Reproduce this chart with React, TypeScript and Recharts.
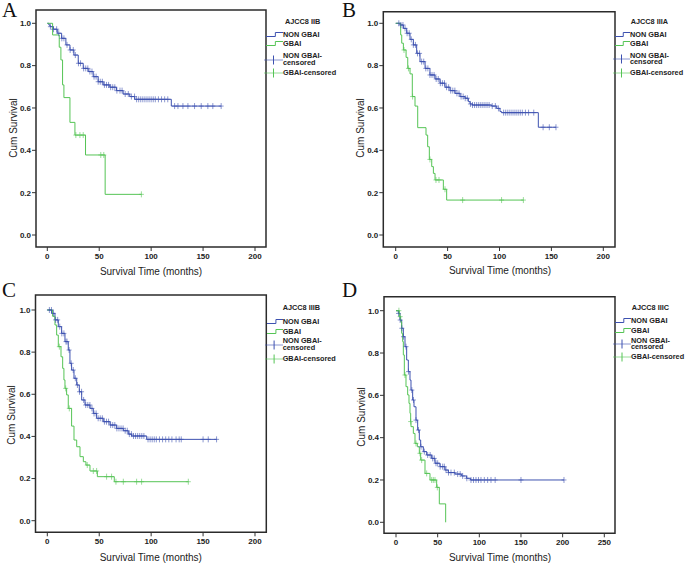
import React from 'react';
import { ComposedChart, Line, Scatter, XAxis, YAxis, ReferenceArea } from 'recharts';

type Pt = [number, number];

const BLUE = '#3d51b0';
const GREEN = '#55c455';
const FONT = '"Liberation Sans", Arial, sans-serif';

const SERIES_NAMES = ['NON GBAI', 'GBAI', 'NON GBAI-censored', 'GBAI-censored'];

// A - AJCC8 IIB
const A_NON: Pt[] = [[0, 1], [1.5, 0.992], [2.6, 0.984], [5.8, 0.972], [9.6, 0.953], [13.8, 0.929], [17.9, 0.898], [21.8, 0.874], [25.6, 0.85], [29.8, 0.811], [34.6, 0.787], [39.4, 0.772], [44.2, 0.748], [49, 0.724], [53.8, 0.709], [60.2, 0.698], [66.6, 0.682], [73, 0.666], [79.4, 0.654], [84.2, 0.641], [119.4, 0.609], [167.4, 0.609]];
const A_NON_CENS = [3, 6, 9, 11, 14, 16, 19, 22, 25, 27, 30, 32, 35, 37, 39, 41, 43, 45, 47, 49, 51, 53, 55, 57, 59, 61, 63, 65, 67, 70, 72, 75, 78, 81, 84, 86, 88, 90, 92, 94, 96, 98, 100, 102, 104, 107, 110, 113, 116, 122.6, 125.8, 130.6, 135.4, 141.8, 148.2, 154.6, 159.4, 167.4];
const A_GBAI: Pt[] = [[0, 1], [5.1, 0.945], [11.5, 0.887], [13.1, 0.827], [14.7, 0.709], [16, 0.649], [21.8, 0.532], [26.6, 0.472], [36.8, 0.378], [55.7, 0.192], [90.6, 0.192]];
const A_GBAI_CENS = [27.5, 31.4, 34.6, 51.5, 54.4, 90.6];

// B - AJCC8 IIIA
const B_NON: Pt[] = [[0, 1], [1, 1], [4.2, 0.992], [7.4, 0.976], [10.6, 0.953], [13.8, 0.924], [17, 0.898], [20.2, 0.858], [23.4, 0.819], [28.3, 0.787], [33, 0.756], [37.9, 0.737], [42.7, 0.717], [47.5, 0.698], [52.3, 0.682], [57.1, 0.669], [62, 0.654], [66.8, 0.646], [70, 0.63], [71.6, 0.619], [74, 0.614], [92.5, 0.609], [97.3, 0.598], [100.5, 0.583], [102, 0.578], [137.4, 0.509], [154.4, 0.509]];
const B_NON_CENS = [3, 5, 7, 9, 11, 13, 15, 17, 19, 21, 23, 25, 27, 29, 31, 33, 35, 37, 39, 41, 43, 45, 47, 49, 51, 53, 55, 57, 59, 61, 63, 65, 67, 69, 72, 74, 76, 78, 80, 82, 84, 86, 88, 90, 93, 96, 99, 104, 106, 108, 110, 112, 114, 116, 118, 120, 122, 125, 128, 133, 142, 148, 154.4];
const B_GBAI: Pt[] = [[0, 1], [4.8, 0.945], [5.8, 0.906], [7.4, 0.874], [10, 0.839], [11.6, 0.787], [13.8, 0.761], [16, 0.654], [18.6, 0.609], [21.2, 0.507], [29.2, 0.472], [30.8, 0.417], [32.4, 0.357], [34.7, 0.323], [36.3, 0.291], [37.9, 0.26], [45.9, 0.216], [49.1, 0.165], [123, 0.165]];
const B_GBAI_CENS = [8, 12.3, 16.3, 33, 38.8, 41.7, 47.5, 64.5, 102, 123];

// C - AJCC8 IIIB
const C_NON: Pt[] = [[0, 1], [1, 1], [4.2, 0.984], [7.4, 0.953], [10.6, 0.921], [13.8, 0.889], [17, 0.85], [20.2, 0.81], [21.8, 0.747], [23.4, 0.715], [25.7, 0.676], [28.3, 0.644], [30.8, 0.612], [33.1, 0.573], [36.3, 0.549], [41.1, 0.533], [44.3, 0.509], [47.5, 0.486], [53.9, 0.47], [60.4, 0.454], [66.8, 0.438], [73.2, 0.427], [78, 0.411], [81.2, 0.402], [95.7, 0.386], [163, 0.386]];
const C_NON_CENS = [2, 4, 6, 8, 10, 12, 14, 16, 18, 19, 21, 23, 25, 27, 29, 31, 33, 35, 37, 39, 41, 43, 45, 47, 49, 51, 53, 55, 57, 59, 61, 63, 65, 67, 69, 71, 73, 75, 77, 79, 81, 83, 85, 87, 89, 91, 93, 97, 99, 101, 103, 105, 108, 111, 114, 117, 120, 124, 127, 129, 150, 155, 163];
const C_GBAI: Pt[] = [[0, 1], [5.1, 0.97], [7.4, 0.929], [9, 0.881], [10.6, 0.826], [13.2, 0.778], [14.8, 0.723], [16, 0.668], [17, 0.628], [18.6, 0.597], [20.2, 0.533], [23.4, 0.449], [25.7, 0.383], [28.3, 0.351], [31.5, 0.304], [34.7, 0.28], [37.2, 0.264], [41.1, 0.236], [48.2, 0.209], [64.5, 0.185], [135.8, 0.185]];
const C_GBAI_CENS = [11.6, 17.7, 21.2, 38.5, 44.3, 47.5, 57.1, 61.9, 66.1, 73.2, 86, 90.8, 135.8];

// D - AJCC8 IIIC
const D_NON: Pt[] = [[0, 1], [2.8, 0.987], [4.8, 0.956], [6.8, 0.917], [8.8, 0.877], [10.8, 0.83], [12.8, 0.767], [14.8, 0.712], [16.8, 0.672], [18, 0.625], [20, 0.578], [21.6, 0.546], [24, 0.483], [26, 0.436], [28, 0.389], [29.6, 0.357], [32.8, 0.334], [36.8, 0.318], [42.8, 0.302], [46.8, 0.279], [52.8, 0.263], [58.8, 0.247], [62.8, 0.235], [70.8, 0.228], [78.8, 0.219], [84.8, 0.208], [89.6, 0.2], [201.6, 0.2]];
const D_NON_CENS = [3, 5, 7, 9, 12, 15, 19, 21, 24, 27, 30, 34, 38, 41, 44, 46, 48, 50, 53, 56, 58, 60, 63, 66, 70, 74, 77, 80, 85, 90, 93, 96, 99, 102, 106, 110, 114, 119, 150, 201.6];
const D_GBAI: Pt[] = [[0, 1], [4, 0.972], [5.6, 0.948], [6.8, 0.893], [8, 0.854], [8.8, 0.791], [10, 0.696], [12, 0.641], [14, 0.602], [15.6, 0.562], [16.8, 0.515], [17.6, 0.476], [18, 0.452], [20.8, 0.42], [22.8, 0.373], [25.6, 0.357], [28, 0.326], [29.6, 0.294], [34.8, 0.231], [40.8, 0.2], [48.8, 0.165], [52, 0.087], [59.6, 0]];
const D_GBAI_CENS = [3.5, 5, 10.8, 17.6, 24, 28.8, 30.8, 36.8, 42.8, 44.8, 46.8, 49.6];

const Y_TICKS = [0, 0.2, 0.4, 0.6, 0.8, 1.0];
const X_TICKS_200 = [0, 50, 100, 150, 200];
const X_TICKS_250 = [0, 50, 100, 150, 200, 250];

// survival value of a step curve at time t (censor marks sit on the curve)
const stepAt = (curve: Pt[], t: number) => {
  let s = curve[0][1];
  for (const [ct, cs] of curve) {
    if (ct <= t) s = cs;
  }
  return s;
};

const toRows = (curve: Pt[]) => curve.map(([t, s]) => ({ t, s }));
const toCens = (curve: Pt[], times: number[]) => times.map((t) => ({ t, s: stepAt(curve, t) }));

const plusShape = (color: string) => (props: any) => {
  const { cx, cy } = props;
  if (cx == null || cy == null) return <g />;
  return (
    <path
      d={`M${cx - 2.5},${cy}h5M${cx},${cy - 3}v6`}
      stroke={color}
      strokeOpacity={0.6}
      strokeWidth={1}
      fill="none"
    />
  );
};

interface PanelCfg {
  letter: string;
  stage: string;
  left: number;
  top: number;
  frame: { l: number; r: number; t: number; b: number };
  x0px: number;
  xMaxPx: number;
  xTicks: number[];
  y1px: number;
  y0px: number;
  non: Pt[];
  nonCens: number[];
  gbai: Pt[];
  gbaiCens: number[];
  xTitle: [number, number];
  yTitle: [number, number];
  legend: { iconX: number; textX: number; titleX: number; titleY: number; rows: number[] };
}

const PANELS: PanelCfg[] = [
  {
    letter: 'A', stage: 'AJCC8 IIB', left: 0, top: 0,
    frame: { l: 36, r: 266, t: 10, b: 247 }, x0px: 47.3, xMaxPx: 255, xTicks: X_TICKS_200,
    y1px: 23.3, y0px: 235,
    non: A_NON, nonCens: A_NON_CENS, gbai: A_GBAI, gbaiCens: A_GBAI_CENS,
    xTitle: [151, 270.5], yTitle: [12.5, 128],
    legend: { iconX: 266, textX: 283, titleX: 285, titleY: 21.7, rows: [35, 44.3, 56.7, 72.7] },
  },
  {
    letter: 'B', stage: 'AJCC8 IIIA', left: 340, top: 0,
    frame: { l: 43.3, r: 275, t: 11.7, b: 247 }, x0px: 55.7, xMaxPx: 263.3, xTicks: X_TICKS_200,
    y1px: 23.3, y0px: 235,
    non: B_NON, nonCens: B_NON_CENS, gbai: B_GBAI, gbaiCens: B_GBAI_CENS,
    xTitle: [160, 269.5], yTitle: [19.5, 128],
    legend: { iconX: 275, textX: 290, titleX: 290.7, titleY: 21.7, rows: [35, 44.3, 56, 72.7] },
  },
  {
    letter: 'C', stage: 'AJCC8 IIIB', left: 0, top: 280,
    frame: { l: 35.5, r: 266.3, t: 15, b: 252.3 }, x0px: 47.3, xMaxPx: 255, xTicks: X_TICKS_200,
    y1px: 30, y0px: 240.7,
    non: C_NON, nonCens: C_NON_CENS, gbai: C_GBAI, gbaiCens: C_GBAI_CENS,
    xTitle: [150.8, 276.7], yTitle: [11, 135],
    legend: { iconX: 266.5, textX: 282.7, titleX: 282.7, titleY: 28.3, rows: [42.3, 51.7, 61.7, 79] },
  },
  {
    letter: 'D', stage: 'AJCC8 IIIC', left: 340, top: 280,
    frame: { l: 44, r: 275, t: 16.7, b: 253.3 }, x0px: 56, xMaxPx: 264.3, xTicks: X_TICKS_250,
    y1px: 30.7, y0px: 242.3,
    non: D_NON, nonCens: D_NON_CENS, gbai: D_GBAI, gbaiCens: D_GBAI_CENS,
    xTitle: [160, 277.3], yTitle: [20.8, 136.7],
    legend: { iconX: 275, textX: 291, titleX: 291.7, titleY: 28.3, rows: [41, 50.7, 61, 77.3] },
  },
];

const tickStyle = { fontSize: 8, fontWeight: 700, fill: '#222', fontFamily: FONT };

const legendText = {
  position: 'absolute' as const,
  fontSize: 7.3,
  fontWeight: 700,
  fontFamily: FONT,
  color: '#222',
  whiteSpace: 'nowrap' as const,
};

function Legend({ cfg }: { cfg: PanelCfg }) {
  const { iconX, textX, titleX, titleY, rows } = cfg.legend;
  const txt = (x: number, y: number, s: string, key: string) => (
    <div key={key} style={{ ...legendText, left: x, top: y - 4, height: 8, lineHeight: '8px' }}>
      {s}
    </div>
  );
  const iconW = textX - iconX;
  const stepIcon = (y: number, color: string, key: string) => (
    <svg key={key} width={iconW} height={10} style={{ position: 'absolute', left: iconX, top: y - 5 }}>
      <path d={`M0,6.5H${iconW * 0.55}V2.5H${iconW}`} stroke={color} fill="none" strokeWidth={1} />
    </svg>
  );
  const censIcon = (y: number, color: string, key: string) => (
    <svg key={key} width={iconW + 2} height={12} style={{ position: 'absolute', left: iconX - 2, top: y - 6 }}>
      <path d={`M0,6H${iconW + 2}`} stroke={color} strokeOpacity={0.6} fill="none" strokeWidth={1} />
      <path d={`M${iconW / 2 + 1},1.5V10.5`} stroke={color} fill="none" strokeWidth={1} />
    </svg>
  );
  return (
    <>
      {txt(titleX, titleY, cfg.stage, 'title')}
      {stepIcon(rows[0], BLUE, 'i0')}
      {txt(textX, rows[0], SERIES_NAMES[0], 't0')}
      {stepIcon(rows[1], GREEN, 'i1')}
      {txt(textX, rows[1], SERIES_NAMES[1], 't1')}
      {censIcon(rows[2] + 3, BLUE, 'i2')}
      {/* the long name wraps onto two lines, as in SPSS */}
      <div style={{ ...legendText, left: textX, top: rows[2] - 3.4, width: 40, lineHeight: '6.8px', whiteSpace: 'normal' }}>
        NON GBAI-<br />censored
      </div>
      {censIcon(rows[3], GREEN, 'i3')}
      {txt(textX, rows[3], SERIES_NAMES[3], 't3')}
    </>
  );
}

function Panel({ cfg }: { cfg: PanelCfg }) {
  const { frame, x0px, xMaxPx, xTicks, y1px, y0px } = cfg;
  const xPer = (xMaxPx - x0px) / xTicks[xTicks.length - 1];
  const xDomain: [number, number] = [(frame.l - x0px) / xPer, (frame.r - x0px) / xPer];
  const yPer = y0px - y1px;
  const yDomain: [number, number] = [(y0px - frame.b) / yPer, (y0px - frame.t) / yPer];
  const width = frame.r + 2;
  const height = frame.b + 24;
  const xAxisH = 18;

  return (
    <div style={{ position: 'absolute', left: cfg.left, top: cfg.top, width: 345, height: 284 }}>
      <div style={{ position: 'absolute', left: 0, top: 0 }}>
        <ComposedChart
          width={width}
          height={height}
          margin={{ top: frame.t, right: 2, bottom: height - frame.b - xAxisH, left: 0 }}
        >
          <XAxis
            type="number"
            dataKey="t"
            domain={xDomain}
            ticks={xTicks}
            allowDataOverflow
            axisLine={false}
            tickSize={4}
            tickMargin={2}
            height={xAxisH}
            tick={tickStyle}
            tickLine={{ stroke: '#333' }}
            interval={0}
          />
          <YAxis
            type="number"
            dataKey="s"
            domain={yDomain}
            ticks={Y_TICKS}
            allowDataOverflow
            axisLine={false}
            width={frame.l}
            tickSize={4}
            tickMargin={1}
            tick={tickStyle}
            tickLine={{ stroke: '#333' }}
            tickFormatter={(v: number) => v.toFixed(1)}
            interval={0}
          />
          <ReferenceArea
            x1={xDomain[0]}
            x2={xDomain[1]}
            y1={yDomain[0]}
            y2={yDomain[1]}
            fill="none"
            stroke="#2b2b2b"
            strokeWidth={1.5}
            ifOverflow="visible"
          />
          <Line
            data={toRows(cfg.non)}
            dataKey="s"
            type="stepAfter"
            stroke={BLUE}
            strokeWidth={1}
            dot={false}
            isAnimationActive={false}
          />
          <Line
            data={toRows(cfg.gbai)}
            dataKey="s"
            type="stepAfter"
            stroke={GREEN}
            strokeWidth={1}
            dot={false}
            isAnimationActive={false}
          />
          <Scatter
            data={toCens(cfg.non, cfg.nonCens)}
            dataKey="s"
            shape={plusShape(BLUE)}
            isAnimationActive={false}
          />
          <Scatter
            data={toCens(cfg.gbai, cfg.gbaiCens)}
            dataKey="s"
            shape={plusShape(GREEN)}
            isAnimationActive={false}
          />
        </ComposedChart>
      </div>

      <div
        style={{
          position: 'absolute', left: cfg.xTitle[0], top: cfg.xTitle[1], transform: 'translate(-50%, -50%)',
          fontSize: 10, fontFamily: FONT, color: '#222', whiteSpace: 'nowrap',
        }}
      >
        Survival Time (months)
      </div>
      <div
        style={{
          position: 'absolute', left: cfg.yTitle[0], top: cfg.yTitle[1],
          transform: 'translate(-50%, -50%) rotate(-90deg)',
          fontSize: 10, fontFamily: FONT, color: '#222', whiteSpace: 'nowrap',
        }}
      >
        Cum Survival
      </div>
      <div
        style={{
          position: 'absolute', left: 2, top: 0, fontSize: 21, lineHeight: '21px',
          fontFamily: '"Liberation Serif", "Times New Roman", serif', color: '#111',
        }}
      >
        {cfg.letter}
      </div>
      <Legend cfg={cfg} />
    </div>
  );
}

export default function App() {
  return (
    <div
      style={{
        position: 'absolute', left: 0, top: 0, width: 685, height: 564,
        background: '#fff', overflow: 'hidden',
      }}
    >
      {PANELS.map((p) => (
        <Panel key={p.letter} cfg={p} />
      ))}
    </div>
  );
}
